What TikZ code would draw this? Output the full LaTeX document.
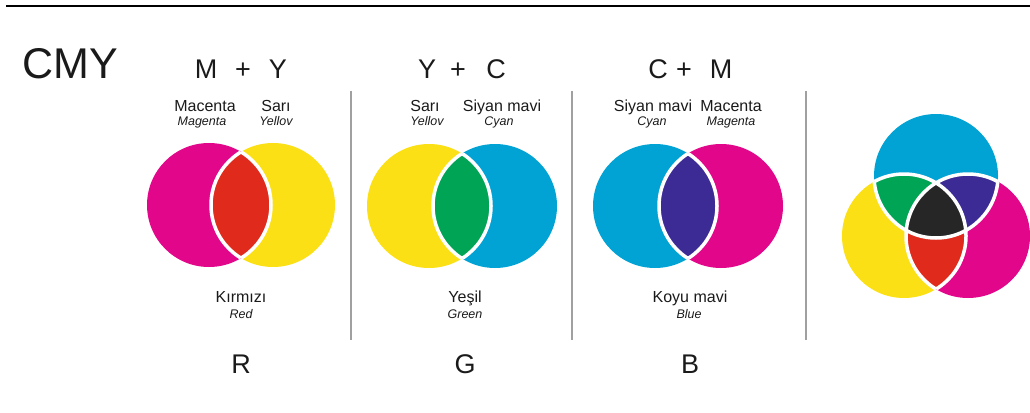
\documentclass[tikz,border=0pt]{standalone}
\usepackage{fontspec}
\setmainfont{Liberation Sans}
\definecolor{cmag}{RGB}{226,6,138}
\definecolor{cyel}{RGB}{250,224,20}
\definecolor{ccya}{RGB}{0,163,212}
\definecolor{cred}{RGB}{224,42,28}
\definecolor{cgrn}{RGB}{0,164,85}
\definecolor{cblu}{RGB}{60,43,148}
\definecolor{cblk}{RGB}{38,38,38}
\definecolor{inkc}{RGB}{26,26,26}
\definecolor{rulec}{RGB}{160,160,160}
\tikzset{
  seam/.style={white, line width=3.5pt},
  seprule/.style={rulec, line width=1.6pt},
  titletxt/.style={text=inkc, anchor=base, inner sep=0pt, font=\fontsize{43}{43}\selectfont},
  bigtxt/.style={text=inkc, anchor=base, inner sep=0pt, font=\fontsize{27}{27}\selectfont},
  nametxt/.style={text=inkc, anchor=base, inner sep=0pt, font=\fontsize{16}{16}\selectfont},
  glosstxt/.style={text=inkc, anchor=base, inner sep=0pt, font=\fontsize{12.5}{12.5}\selectfont\itshape},
}
% two overlapping discs with an outlined lens
\newcommand\venntwo[6]{%
  \fill[#4] (#1,#3) circle (62pt);
  \fill[#5] (#2,#3) circle (62pt);
  \begin{scope}
    \clip (#1,#3) circle (62pt);
    \fill[#6] (#2,#3) circle (62pt);
    \draw[seam] (#2,#3) circle (62pt);
  \end{scope}
  \begin{scope}
    \clip (#2,#3) circle (62pt);
    \draw[seam] (#1,#3) circle (62pt);
  \end{scope}
}
\begin{document}
\begin{tikzpicture}[x=1pt,y=-1pt]
\useasboundingbox (0,0) rectangle (1030,412);

% top rule and column separators
\coordinate (ruleL) at (6,6);
\coordinate (ruleR) at (1030,6);
\draw[black, line width=1.8pt] (ruleL) -- (ruleR);
\coordinate (s1t) at (351,91); \coordinate (s1b) at (351,340);
\coordinate (s2t) at (572,91); \coordinate (s2b) at (572,340);
\coordinate (s3t) at (806,91); \coordinate (s3b) at (806,340);
\draw[seprule] (s1t) -- (s1b);
\draw[seprule] (s2t) -- (s2b);
\draw[seprule] (s3t) -- (s3b);

\node[titletxt] (cmy) at (70,78) {CMY};

% M + Y -> R
\node[bigtxt] (m1) at (206,78) {M};
\node[bigtxt] (p1) at (243,78) {+};
\node[bigtxt] (y1) at (278,78) {Y};
\node[nametxt] (n1a) at (205,111) {Macenta};
\node[glosstxt] (g1a) at (202,125) {Magenta};
\node[nametxt] (n1b) at (276,111) {Sarı};
\node[glosstxt] (g1b) at (276,125) {Yellov};
\venntwo{209}{273}{205}{cmag}{cyel}{cred}
\node[nametxt] (b1) at (241,302) {Kırmızı};
\node[glosstxt] (bg1) at (241,318) {Red};
\node[bigtxt] (r) at (241,373) {R};

% Y + C -> G
\node[bigtxt] (y2) at (427,78) {Y};
\node[bigtxt] (p2) at (458,78) {+};
\node[bigtxt] (c2) at (496,78) {C};
\node[nametxt] (n2a) at (425,111) {Sarı};
\node[glosstxt] (g2a) at (427,125) {Yellov};
\node[nametxt] (n2b) at (502,111) {Siyan mavi};
\node[glosstxt] (g2b) at (499,125) {Cyan};
\venntwo{429}{495}{206}{cyel}{ccya}{cgrn}
\node[nametxt] (b2) at (465,302) {Yeşil};
\node[glosstxt] (bg2) at (465,318) {Green};
\node[bigtxt] (g) at (465,373) {G};

% C + M -> B
\node[bigtxt] (c3) at (658,78) {C};
\node[bigtxt] (p3) at (684,78) {+};
\node[bigtxt] (m3) at (721,78) {M};
\node[nametxt] (n3a) at (653,111) {Siyan mavi};
\node[glosstxt] (g3a) at (652,125) {Cyan};
\node[nametxt] (n3b) at (731,111) {Macenta};
\node[glosstxt] (g3b) at (731,125) {Magenta};
\venntwo{655}{721}{206}{ccya}{cmag}{cblu}
\node[nametxt] (b3) at (690,302) {Koyu mavi};
\node[glosstxt] (bg3) at (689,318) {Blue};
\node[bigtxt] (b) at (690,373) {B};

% three-disc overlap
\coordinate (cC) at (936,176);
\coordinate (cY) at (904,236);
\coordinate (cM) at (968,236);
\fill[ccya] (cC) circle (62pt);
\fill[cyel] (cY) circle (62pt);
\fill[cmag] (cM) circle (62pt);
% yellow and magenta give red
\begin{scope}
  \clip (cY) circle (62pt);
  \fill[cred] (cM) circle (62pt);
\end{scope}
% overlaps inside the cyan disc
\begin{scope}
  \clip (cC) circle (62pt);
  \fill[cgrn] (cY) circle (62pt);
  \fill[cblu] (cM) circle (62pt);
  \clip (cY) circle (62pt);
  \fill[cblk] (cM) circle (62pt);
\end{scope}
% white seams along every inner arc
\begin{scope}
  \clip (cY) circle (62pt) (cM) circle (62pt);
  \draw[seam] (cC) circle (62pt);
\end{scope}
\begin{scope}
  \clip (cC) circle (62pt) (cM) circle (62pt);
  \draw[seam] (cY) circle (62pt);
\end{scope}
\begin{scope}
  \clip (cC) circle (62pt) (cY) circle (62pt);
  \draw[seam] (cM) circle (62pt);
\end{scope}
\end{tikzpicture}
\end{document}
